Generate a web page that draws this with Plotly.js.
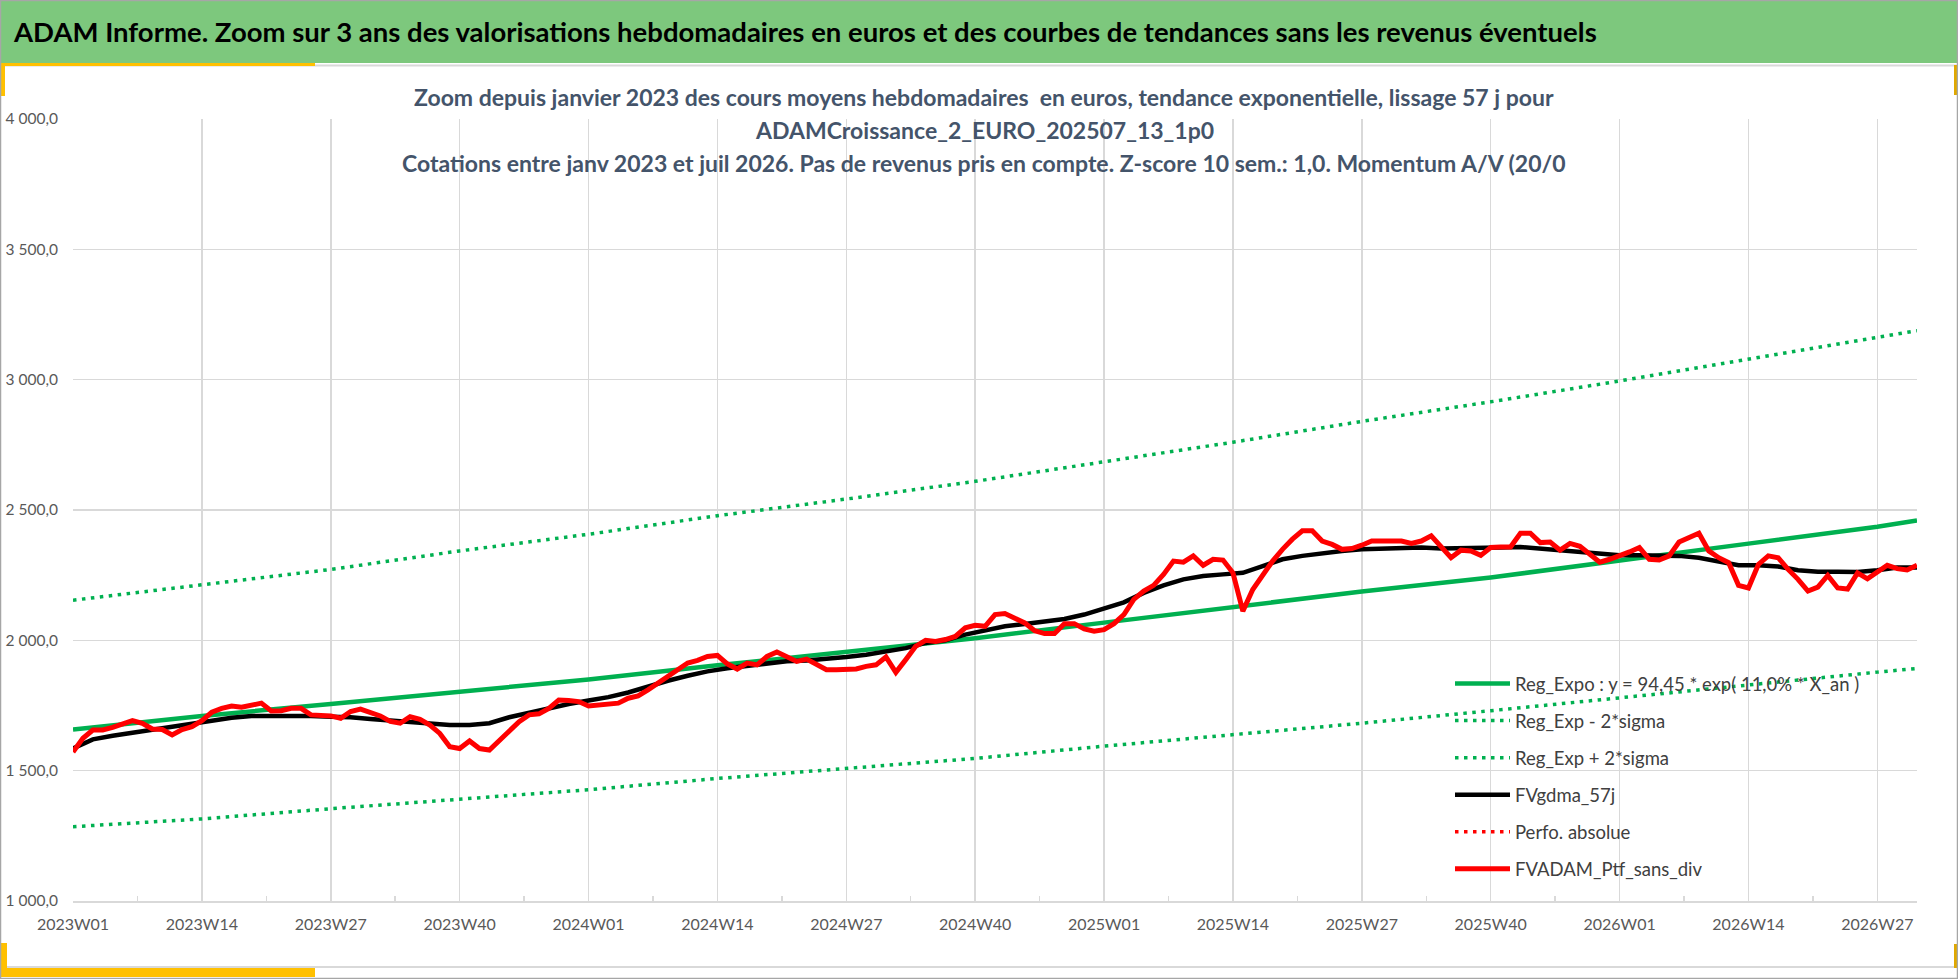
<!DOCTYPE html>
<html>
<head>
<meta charset="utf-8">
<script src="https://cdn.plot.ly/plotly-3.0.1.min.js"></script>
<style>
  html, body { margin: 0; padding: 0; background: #fff; }
  #graph { width: 1958px; height: 979px; }
</style>
</head>
<body>
<div id="graph"></div>
<script>
// weekly values, 2023W01 .. 2026W31 (one per week)
var ptfValues = [
  1572,1624,1656,1656,1666,1679,1692,1682,1660,1658,1637,1658,1669,1692,1724,1739,
  1748,1743,1750,1759,1729,1730,1739,1739,1714,1714,1710,1701,1727,1736,1723,1710,
  1689,1682,1707,1697,1675,1643,1592,1585,1614,1585,1579,1617,1649,1688,1714,1718,
  1739,1771,1769,1765,1748,1752,1759,1759,1778,1787,1810,1836,1861,1887,1913,1923,
  1938,1942,1910,1890,1913,1906,1938,1955,1938,1919,1928,1906,1887,1887,1887,1890,
  1900,1906,1936,1877,1926,1977,2000,1996,2003,2015,2048,2058,2054,2099,
  2103,2086,2067,2037,2026,2026,2064,2064,2044,2035,2041,2064,2099,2157,2189,2211,
  2253,2304,2300,2324,2288,2311,2308,2259,2112,2195,2253,2304,2349,2388,2420,2420,
  2381,2368,2349,2352,2365,2381,2381,2381,2381,2372,2381,2401,2356,2317,
  2346,2343,2326,2356,2358,2358,2411,2411,2375,2377,2346,2372,2361,2333,2300,2311,
  2324,2339,2356,2311,2308,2324,2377,2392,2411,2343,2317,2298,2211,2201,2291,2324,
  2317,2272,2234,2189,2204,2249,2201,2197,2259,2236,2262,2288,2275,2270,2288
];

// smoothed 57j, read every 2 weeks (weeks 0, 2, 4 ... 186)
var gdmaValues = [
  1585,1620,1634,1646,1656,1666,1679,1694,1703,1710,1711,1711,1710,1707,1705,1698,
  1692,1688,1684,1675,1675,1682,1705,1723,1739,1756,1769,1782,1800,1823,1845,1864,
  1881,1893,1902,1913,1920,1923,1928,1936,1945,1958,1970,1990,2000,2022,2039,2054,
  2063,2071,2082,2099,2121,2146,2182,2211,2234,2247,2253,2259,2285,2311,2324,2334,
  2343,2349,2352,2352,2356,2352,2352,2352,2356,2358,2352,2346,2339,2333,2326,2326,
  2324,2324,2317,2304,2288,2288,2283,2269,2263,2263,2262,2269,2279,2279
];

// trend lines read at the quarter ticks and at the last week
var trendWeeks = [0,13,26,39,52,65,78,91,104,117,130,143,156,169,182,186];
var regExpo    = [1658,1710,1756,1804,1850,1904,1956,2008,2068,2128,2187,2241,2304,2371,2436,2460];
var regLow     = [1285,1315,1354,1392,1427,1470,1508,1547,1594,1637,1682,1730,1780,1830,1878,1892];
var regHigh    = [2154,2214,2272,2343,2407,2478,2542,2610,2685,2760,2840,2915,2995,3080,3165,3188];

var tickLabels = ['2023W01','2023W14','2023W27','2023W40','2024W01','2024W14','2024W27','2024W40',
                  '2025W01','2025W14','2025W27','2025W40','2026W01','2026W14','2026W27'];
var tickWeeks = tickLabels.map(function (t, i) { return i * 13; });

var ptfWeeks = ptfValues.map(function (v, i) { return i; });
var gdmaWeeks = gdmaValues.map(function (v, i) { return i * 2; });

var FONT = 'Lato, "Open Sans", sans-serif';
var GREEN = '#00B050';

// plot area in page pixels, used for the frame decorations
var L = 73, R = 1917, T = 119, B = 901;
function px(v) { return (v - L) / (R - L); }
function py(v) { return (B - v) / (B - T); }

function rect(x0, y0, x1, y1, color) {
  return { type: 'rect', xref: 'paper', yref: 'paper', layer: 'below',
    x0: px(x0), x1: px(x1), y0: py(y0), y1: py(y1),
    fillcolor: color, line: { width: 0 } };
}

var data = [
  { x: trendWeeks, y: regExpo, mode: 'lines', name: 'Reg_Expo : y = 94,45 * exp( 11,0% * X_an )',
    line: { color: GREEN, width: 4.5 } },
  { x: trendWeeks, y: regLow, mode: 'lines', name: 'Reg_Exp - 2*sigma',
    line: { color: GREEN, width: 3.5, dash: '3.5px,5.5px' } },
  { x: trendWeeks, y: regHigh, mode: 'lines', name: 'Reg_Exp + 2*sigma',
    line: { color: GREEN, width: 3.5, dash: '3.5px,5.5px' } },
  { x: gdmaWeeks, y: gdmaValues, mode: 'lines', name: 'FVgdma_57j',
    line: { color: '#000000', width: 4.5 } },
  { x: [null], y: [null], mode: 'lines', name: 'Perfo. absolue',
    line: { color: '#FF0000', width: 3.5, dash: '3.5px,5.5px' } },
  { x: ptfWeeks, y: ptfValues, mode: 'lines', name: 'FVADAM_Ptf_sans_div',
    line: { color: '#FF0000', width: 5 } }
];
data.forEach(function (t, i) { t.legendgroup = 'g' + i; });

var subtitle = [
  'Zoom depuis janvier 2023 des cours moyens hebdomadaires  en euros, tendance exponentielle, lissage 57 j pour',
  'ADAMCroissance_2_EURO_202507_13_1p0',
  'Cotations entre janv 2023 et juil 2026. Pas de revenus pris en compte. Z-score 10 sem.: 1,0. Momentum A/V (20/0'
];
var subY = [97, 130, 163];

var layout = {
  width: 1958,
  height: 979,
  margin: { l: L, r: 1958 - R, t: T, b: 979 - B, pad: 0 },
  paper_bgcolor: '#ffffff',
  plot_bgcolor: 'rgba(0,0,0,0)',
  separators: ', ',
  font: { family: FONT, color: '#595959' },
  title: {
    text: '<b>ADAM Informe. Zoom sur 3 ans des valorisations hebdomadaires en euros et des courbes de tendances sans les revenus éventuels</b>',
    x: 14 / 1958, xanchor: 'left', y: 1 - 32 / 979, yanchor: 'middle',
    font: { family: FONT, size: 27.5, color: '#000000' }
  },
  xaxis: {
    range: [0, 186],
    tickmode: 'array', tickvals: tickWeeks, ticktext: tickLabels,
    showgrid: true, gridcolor: '#D9D9D9', gridwidth: 1.5,
    zeroline: false, showline: true, linecolor: '#D9D9D9', linewidth: 1.5,
    ticks: '', ticklabelstandoff: 8,
    tickfont: { family: FONT, size: 16, color: '#595959' },
    minor: { tickmode: 'linear', tick0: 6.5, dtick: 13, ticks: 'inside', ticklen: 5,
             tickcolor: '#D9D9D9', tickwidth: 1.5, showgrid: false }
  },
  yaxis: {
    range: [1000, 4000], dtick: 500, tickformat: ',.1f',
    showgrid: true, gridcolor: '#D9D9D9', gridwidth: 1.5,
    zeroline: false, showline: false, ticks: '', ticklabelstandoff: 14,
    tickfont: { family: FONT, size: 15.5, color: '#595959' }
  },
  showlegend: true,
  legend: {
    x: px(1450), xanchor: 'left', y: py(665), yanchor: 'top',
    bgcolor: 'rgba(0,0,0,0)', borderwidth: 0,
    traceorder: 'grouped', tracegroupgap: 10, itemwidth: 55,
    font: { family: FONT, size: 18.5, color: '#404040' }
  },
  annotations: subtitle.map(function (s, i) {
    return { text: '<b>' + s + '</b>', xref: 'paper', yref: 'paper',
      x: px(984), y: py(subY[i]), xanchor: 'center', yanchor: 'middle', showarrow: false,
      font: { family: FONT, size: 23, color: '#44546A' } };
  }),
  shapes: [
    rect(0, 0, 1958, 63, '#7DC87D'),
    { type: 'line', xref: 'paper', yref: 'paper', layer: 'below',
      x0: px(0), x1: px(1958), y0: py(65.5), y1: py(65.5), line: { color: '#D9D9D9', width: 2 } },
    { type: 'line', xref: 'paper', yref: 'paper', layer: 'below',
      x0: px(7), x1: px(1954), y0: py(967), y1: py(967), line: { color: '#D9D9D9', width: 2 } },
    rect(0, 63, 315, 66, '#FFC000'),
    rect(0, 63, 5, 96, '#FFC000'),
    rect(1954, 65, 1957, 95, '#E0A800'),
    rect(0, 943, 7, 977, '#FFC000'),
    rect(0, 968, 315, 977, '#FFC000'),
    rect(1954, 944, 1957, 968, '#E0A800'),
    { type: 'rect', xref: 'paper', yref: 'paper', layer: 'above',
      x0: px(0.5), x1: px(1957.5), y0: py(0.5), y1: py(978.5),
      line: { color: '#A6A6A6', width: 1.5 } }
  ]
};

Plotly.newPlot('graph', data, layout, { displayModeBar: false, staticPlot: true });
</script>
</body>
</html>
